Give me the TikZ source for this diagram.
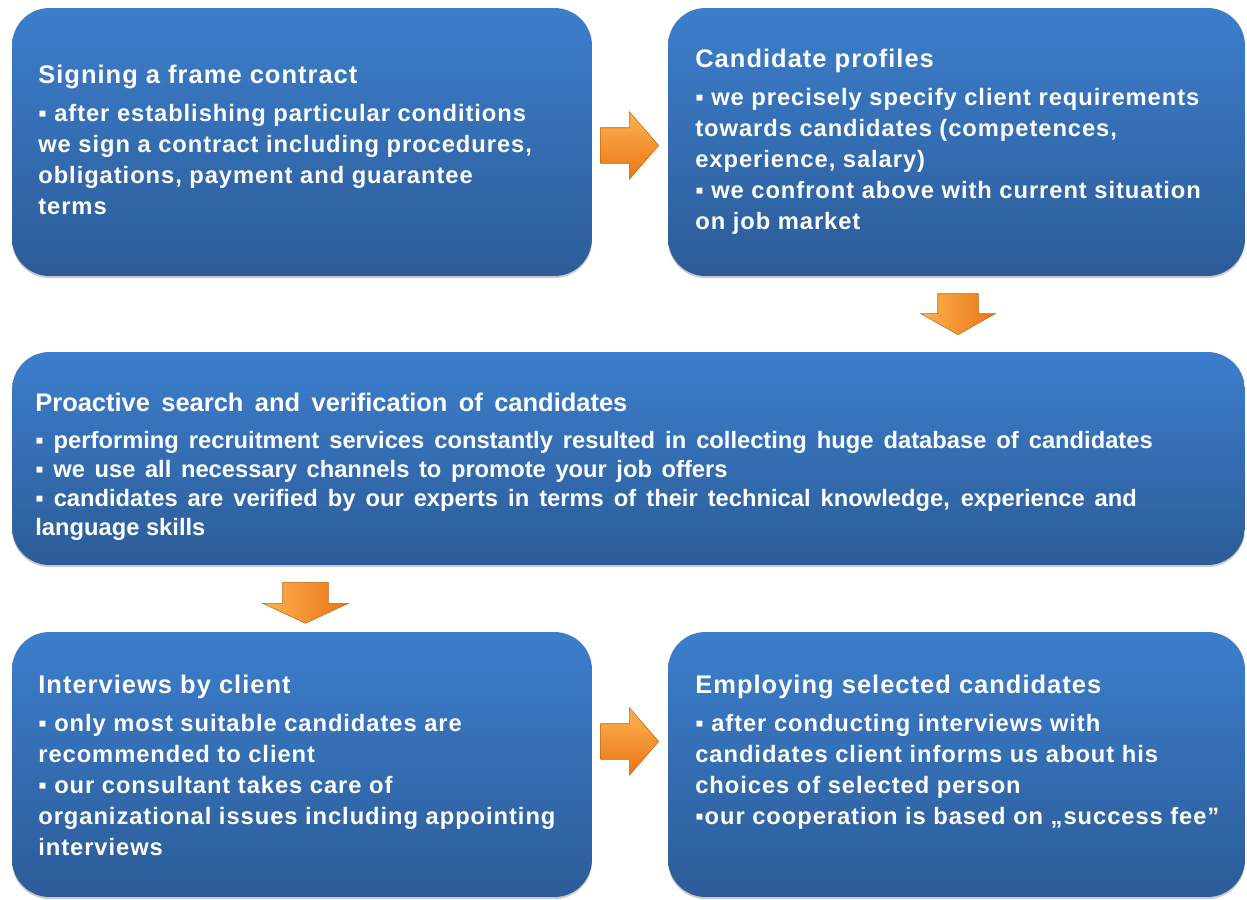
\documentclass[tikz,border=0pt]{standalone}
\usepackage{fontspec}
\setmainfont{Liberation Sans}
\newfontfamily\widefont[LetterSpace=4]{Liberation Sans}
\usetikzlibrary{shapes.arrows,shadows}

\definecolor{boxtop}{RGB}{60,126,204}
\definecolor{boxbot}{RGB}{44,92,152}
\definecolor{arrowlight}{RGB}{255,178,80}
\definecolor{arrowdark}{RGB}{232,118,22}

\tikzset{
  stage/.style={rectangle, rounded corners=0.75cm, top color=boxtop, bottom color=boxbot, inner sep=0pt,
    drop shadow={shadow xshift=0pt, shadow yshift=-1.2pt, opacity=0.35, fill=black!60}},
  stagetext/.style={anchor=north west, inner sep=0pt, align=left, text=white,
    font=\widefont\bfseries\fontsize{13.5}{17.75}\selectfont},
  flowarrow/.style={single arrow, inner xsep=0pt, top color=arrowlight, bottom color=arrowdark,
    draw=arrowdark!85!black, line width=0.3pt},
  downarrow/.style={single arrow, inner xsep=0pt, rotate=-90, left color=arrowlight, right color=arrowdark,
    draw=arrowdark!85!black, line width=0.3pt}
}
\newcommand{\stagehead}[1]{\rule{0pt}{12pt}{\fontsize{14.5}{17.75}\selectfont #1}}

\begin{document}
\begin{tikzpicture}[x=0.02cm,y=-0.02cm]
\useasboundingbox (0,0) rectangle (1247,899);

% boxes
\node[stage, minimum width=11.6cm, minimum height=5.36cm] (sign) at (302,142) {};
\node[stage, minimum width=11.54cm, minimum height=5.36cm] (profiles) at (956.5,142) {};
\node[stage, minimum width=24.66cm, minimum height=4.26cm] (search) at (628.5,458.5) {};
\node[stage, minimum width=11.6cm, minimum height=5.3cm] (interviews) at (302,764.5) {};
\node[stage, minimum width=11.54cm, minimum height=5.3cm] (employ) at (956.5,764.5) {};

% arrows
\node[flowarrow, inner ysep=0.35cm, minimum height=1.16cm, single arrow head extend=0.32cm,
  single arrow tip angle=98] (sign2profiles) at (622,145.5) {};
\node[downarrow, inner ysep=0.4cm, minimum height=0.82cm,
  single arrow head extend=0.34cm, single arrow tip angle=121] (profiles2search) at (958,308.5) {};
\node[downarrow, inner ysep=0.45cm, minimum height=0.82cm,
  single arrow head extend=0.4cm, single arrow tip angle=130] (search2interviews) at (305.5,597.5) {};
\node[flowarrow, inner ysep=0.35cm, minimum height=1.16cm, single arrow head extend=0.32cm,
  single arrow tip angle=98] (interviews2employ) at (622,741.5) {};

% texts
\node[stagetext] (signtext) at (38,61.8) {\stagehead{Signing a frame contract}\\[3.75pt]
▪ after establishing particular conditions\\
we sign a contract including procedures,\\
obligations, payment and guarantee\\
terms};

\node[stagetext] (profilestext) at (695,45.8) {\stagehead{Candidate profiles}\\[3.75pt]
▪ we precisely specify client requirements\\
towards candidates (competences,\\
experience, salary)\\
▪ we confront above with current situation\\
on job market};

\node[stagetext, font=\bfseries\fontsize{13.5}{16.4}\selectfont] (searchtext) at (35,389.8)
{\stagehead{\hbox to 337pt{Proactive search and verification of candidates}}\\[5pt]
\hbox to 636pt{▪ performing recruitment services constantly resulted in collecting huge database of candidates}\\
\hbox to 394pt{▪ we use all necessary channels to promote your job offers}\\
\hbox to 627pt{▪ candidates are verified by our experts in terms of their technical knowledge, experience and}\\
language skills};

\node[stagetext] (interviewstext) at (38,671.8) {\stagehead{Interviews by client}\\[3.75pt]
▪ only most suitable candidates are\\
recommended to client\\
▪ our consultant takes care of\\
organizational issues including appointing\\
interviews};

\node[stagetext] (employtext) at (695,671.8) {\stagehead{Employing selected candidates}\\[3.75pt]
▪ after conducting interviews with\\
candidates client informs us about his\\
choices of selected person\\
▪our cooperation is based on „success fee”};

\end{tikzpicture}
\end{document}
